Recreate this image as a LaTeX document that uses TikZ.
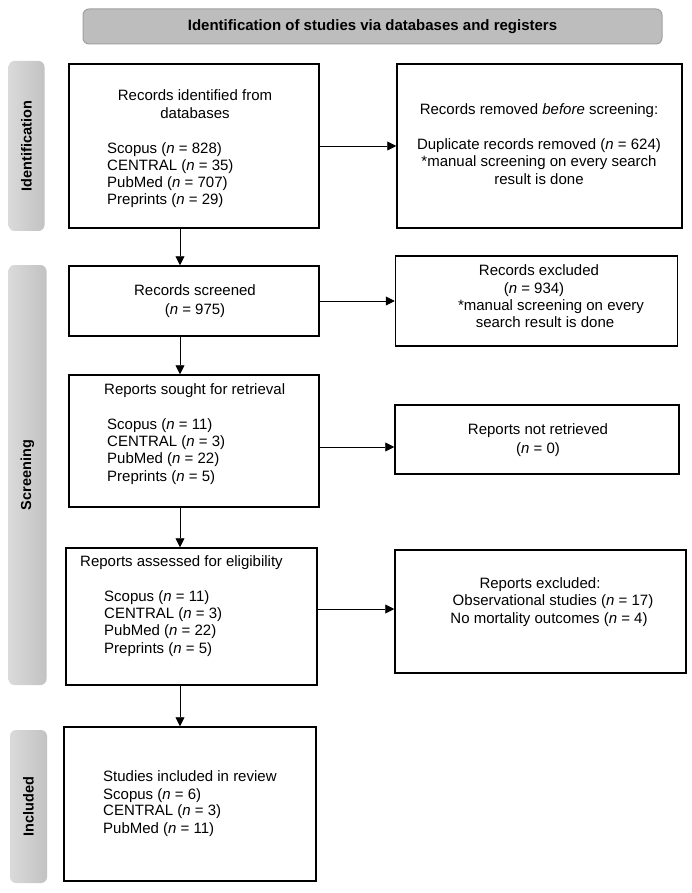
\documentclass[tikz,border=0pt]{standalone}
\usepackage{fontspec}
\setmainfont{Liberation Sans}
\usetikzlibrary{arrows.meta}
\definecolor{hdrfill}{HTML}{BDBDBD}
\definecolor{hdrline}{HTML}{A0A0A0}
\definecolor{barL}{HTML}{DADADA}
\definecolor{barR}{HTML}{C2C2C2}
\tikzset{
  box/.style={draw=black, line width=1.5pt, fill=white, inner sep=0pt},
  hdr/.style={draw=hdrline, line width=1pt, fill=hdrfill, rounded corners=6pt, inner sep=0pt},
  sidebar/.style={left color=barL, right color=barR, draw=none, rounded corners=6pt, inner sep=0pt},
  txt/.style={font=\fontsize{15}{17}\selectfont, inner sep=0pt, anchor=mid west},
  ctxt/.style={font=\fontsize{15}{17}\selectfont, inner sep=0pt, anchor=mid},
  sidetxt/.style={font=\fontsize{14.5}{17}\selectfont\bfseries, rotate=90, inner sep=0pt},
  arr/.style={line width=0.9pt, -{Triangle[length=9pt,width=9pt]}},
}
\newcommand{\nn}{\textit{n}}
\begin{document}
\begin{tikzpicture}[x=1pt,y=-1pt]
\useasboundingbox (0,0) rectangle (692,893);
% header
\node[hdr, minimum width=579pt, minimum height=35pt] (hdr) at (372.5,26.5) {};
\node[font=\fontsize{15}{17}\selectfont\bfseries, inner sep=0pt] (hdrt) at (hdr) {Identification of studies via databases and registers};
% side bars
\node[sidebar, minimum width=36pt, minimum height=170pt] (sb1) at (26.5,146) {};
\node[sidetxt] (sb1t) at (sb1) {Identification};
\node[sidebar, minimum width=38pt, minimum height=420pt] (sb2) at (27.5,475) {};
\node[sidetxt] (sb2t) at (sb2) {Screening};
\node[sidebar, minimum width=37pt, minimum height=153pt] (sb3) at (28.5,806.5) {};
\node[sidetxt] (sb3t) at (sb3) {Included};
% left boxes
\node[box, minimum width=250pt, minimum height=164pt] (b1) at (194,146) {};
\node[box, minimum width=250pt, minimum height=70pt] (b2) at (194,301) {};
\node[box, minimum width=250pt, minimum height=132pt] (b3) at (194,441) {};
\node[box, minimum width=251pt, minimum height=137pt] (b4) at (191.5,616.5) {};
\node[box, minimum width=252pt, minimum height=154pt] (b5) at (190,804) {};
% right boxes
\node[box, minimum width=285pt, minimum height=164pt] (r1) at (539.5,146) {};
\node[box, minimum width=282pt, minimum height=90pt] (r2) at (536.5,301) {};
\node[box, minimum width=284pt, minimum height=69pt] (r3) at (537,439.5) {};
\node[box, minimum width=291pt, minimum height=123pt] (r4) at (540.5,611.5) {};
% box 1 text
\node[ctxt] (t1a) at (195,98) {Records identified from};
\node[ctxt] (t1b) at (195,116) {databases};
\node[txt] (t1c) at (107,151) {Scopus (\nn{} = 828)};
\node[txt] (t1d) at (107,168) {CENTRAL (\nn{} = 35)};
\node[txt] (t1e) at (107,185) {PubMed (\nn{} = 707)};
\node[txt] (t1f) at (107,202) {Preprints (\nn{} = 29)};
% right 1 text
\node[ctxt] (u1a) at (539,112) {Records removed \textit{before} screening:};
\node[ctxt] (u1b) at (539,147) {Duplicate records removed (\nn{} = 624)};
\node[ctxt] (u1c) at (539,164) {*manual screening on every search};
\node[ctxt] (u1d) at (539,182) {result is done};
% box 2 text
\node[ctxt] (t2a) at (195,293) {Records screened};
\node[ctxt] (t2b) at (195,312) {(\nn{} = 975)};
% right 2 text
\node[ctxt] (u2a) at (539,273) {Records excluded};
\node[ctxt] (u2b) at (534,291) {(\nn{} = 934)};
\node[ctxt] (u2c) at (551,308) {*manual screening on every};
\node[ctxt] (u2d) at (545,325) {search result is done};
% box 3 text
\node[txt] (t3a) at (104,392) {Reports sought for retrieval};
\node[txt] (t3b) at (107,427) {Scopus (\nn{} = 11)};
\node[txt] (t3c) at (107,444) {CENTRAL (\nn{} = 3)};
\node[txt] (t3d) at (107,461) {PubMed (\nn{} = 22)};
\node[txt] (t3e) at (107,479) {Preprints (\nn{} = 5)};
% right 3 text
\node[ctxt] (u3a) at (538,432) {Reports not retrieved};
\node[ctxt] (u3b) at (538,451) {(\nn{} = 0)};
% box 4 text
\node[txt] (t4a) at (80,564) {Reports assessed for eligibility};
\node[txt] (t4b) at (104,599) {Scopus (\nn{} = 11)};
\node[txt] (t4c) at (104,616) {CENTRAL (\nn{} = 3)};
\node[txt] (t4d) at (104,633) {PubMed (\nn{} = 22)};
\node[txt] (t4e) at (104,651) {Preprints (\nn{} = 5)};
% right 4 text
\node[ctxt] (u4a) at (540,586) {Reports excluded:};
\node[ctxt] (u4b) at (553,603) {Observational studies (\nn{} = 17)};
\node[ctxt] (u4c) at (549,621) {No mortality outcomes (\nn{} = 4)};
% box 5 text
\node[txt] (t5a) at (103,779) {Studies included in review};
\node[txt] (t5b) at (103,797) {Scopus (\nn{} = 6)};
\node[txt] (t5c) at (103,813) {CENTRAL (\nn{} = 3)};
\node[txt] (t5d) at (103,831) {PubMed (\nn{} = 11)};
% connector helpers
\coordinate (xd) at (180,0);
\coordinate (y3) at (0,447);
\coordinate (y4) at (0,609);
% horizontal arrows
\draw[arr] (b1.east) -- (r1.west);
\draw[arr] (b2.east) -- (r2.west);
\draw[arr] (b3.east |- y3) -- (r3.west |- y3);
\draw[arr] (b4.east |- y4) -- (r4.west |- y4);
% vertical arrows
\draw[arr] (b1.south -| xd) -- (b2.north -| xd);
\draw[arr] (b2.south -| xd) -- (b3.north -| xd);
\draw[arr] (b3.south -| xd) -- (b4.north -| xd);
\draw[arr] (b4.south -| xd) -- (b5.north -| xd);
\end{tikzpicture}
\end{document}
